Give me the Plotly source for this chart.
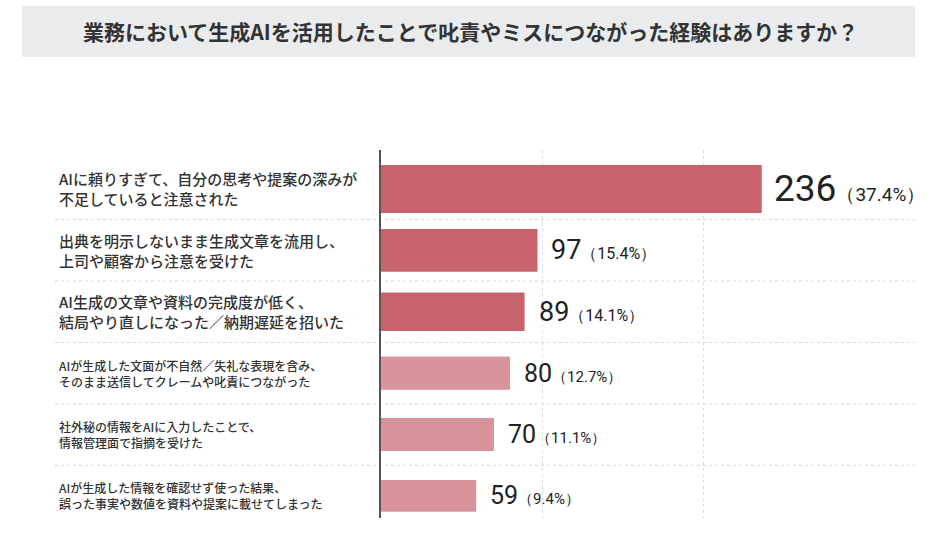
import plotly.graph_objects as go

# 回答項目（上から順）
labels = [
    "AIに頼りすぎて、自分の思考や提案の深みが<br>不足していると注意された",
    "出典を明示しないまま生成文章を流用し、<br>上司や顧客から注意を受けた",
    "AI生成の文章や資料の完成度が低く、<br>結局やり直しになった／納期遅延を招いた",
    "AIが生成した文面が不自然／失礼な表現を含み、<br>そのまま送信してクレームや叱責につながった",
    "社外秘の情報をAIに入力したことで、<br>情報管理面で指摘を受けた",
    "AIが生成した情報を確認せず使った結果、<br>誤った事実や数値を資料や提案に載せてしまった",
]
counts = [236, 97, 89, 80, 70, 59]
shares = [37.4, 15.4, 14.1, 12.7, 11.1, 9.4]
grid_ticks = [100, 200]

title = "業務において生成AIを活用したことで叱責やミスにつながった経験はありますか？"

# styles
bar_colors = ["#c8636e"] * 3 + ["#d9949b"] * 3
bar_widths = [0.78, 0.70, 0.63, 0.54, 0.54, 0.52]
label_sizes = [15, 15, 15, 12, 12, 12]
num_sizes = [37, 27, 27, 25, 25, 25]
pct_sizes = [19, 16, 16, 15, 15, 15]
num_font = "Roboto, sans-serif"
jp_font = "Noto Sans CJK JP, sans-serif"

W, H = 937, 543
L, R, T, B = 381, 22, 150, 25


# pixel -> paper coordinates helpers
def px_x(p):
    return (p - L) / (W - L - R)


def px_y(p):
    return (H - B - p) / (H - T - B)


fig = go.Figure()
fig.add_trace(go.Bar(
    x=counts, y=list(range(len(counts))), orientation="h",
    width=bar_widths, marker_color=bar_colors, marker_line_width=0,
    hoverinfo="skip",
))

# title box
fig.add_shape(type="rect", xref="paper", yref="paper",
              x0=px_x(22), x1=px_x(915), y0=px_y(57), y1=px_y(6),
              fillcolor="#e9ebed", line_width=0, layer="below")
fig.add_annotation(text=f"<b>{title}</b>", xref="paper", yref="paper",
                   x=px_x(470), y=px_y(31), xanchor="center", yanchor="middle",
                   showarrow=False,
                   font=dict(family=jp_font, size=21, color="#333333"))

# row separators
for i in range(len(counts) - 1):
    fig.add_shape(type="line", xref="paper", yref="y",
                  x0=px_x(55), x1=px_x(915), y0=i + 0.5, y1=i + 0.5,
                  line=dict(color="#d4d4d4", width=1, dash="dot"), layer="below")

for i, (lab, c, s) in enumerate(zip(labels, counts, shares)):
    fig.add_annotation(text=lab, xref="paper", yref="y", x=px_x(57), y=i,
                       xanchor="left", yanchor="middle", align="left", showarrow=False,
                       font=dict(family=jp_font, size=label_sizes[i], color="#333333",
                                 weight=500))
    txt = (f"<span style='font-size:{num_sizes[i]}px'>{c}</span>"
           f"<span style='font-size:{pct_sizes[i]}px'>（{s}%）</span>")
    fig.add_annotation(text=txt, x=c, y=i, xref="x", yref="y",
                       xanchor="left", yanchor="middle", xshift=12 if i else 10,
                       showarrow=False,
                       font=dict(family=num_font, color="#222222"))

fig.update_layout(
    width=W, height=H, margin=dict(l=L, r=R, t=T, b=B),
    paper_bgcolor="white", plot_bgcolor="white", showlegend=False,
    xaxis=dict(range=[0, 331], tickvals=grid_ticks, showticklabels=False,
               showgrid=True, gridcolor="#dddddd", griddash="dot", gridwidth=1,
               zeroline=False, fixedrange=True),
    yaxis=dict(range=[5.36, -0.635], showticklabels=False, showgrid=False,
               showline=True, linecolor="#555555", linewidth=1.5, zeroline=False,
               ticks="", fixedrange=True),
)

# drop the browser's default body margin so the chart sits at the top-left corner
fig.write_html("out.html", config={"displayModeBar": False},
               post_script="document.body.style.margin='0';")
